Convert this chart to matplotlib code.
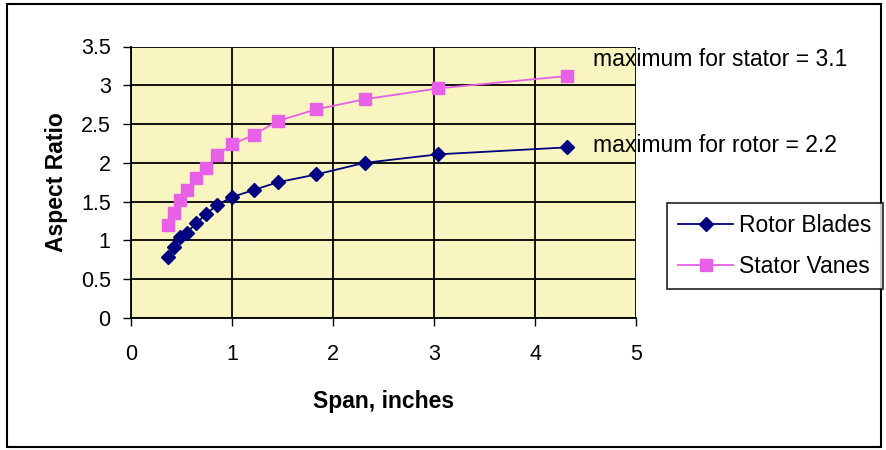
import matplotlib.pyplot as plt
from matplotlib.patches import Rectangle

plt.rcParams['font.family'] = ['Liberation Sans', 'DejaVu Sans']

# data
span = [0.36, 0.42, 0.48, 0.55, 0.64, 0.74, 0.85, 1.00, 1.21, 1.45, 1.83, 2.31, 3.04, 4.32]
rotor = [0.79, 0.91, 1.04, 1.10, 1.22, 1.34, 1.46, 1.56, 1.65, 1.75, 1.85, 2.00, 2.11, 2.20]
stator = [1.20, 1.36, 1.52, 1.65, 1.80, 1.94, 2.10, 2.24, 2.36, 2.54, 2.69, 2.82, 2.96, 3.12]

xticks = [0, 1, 2, 3, 4, 5]
yticks = [0, 0.5, 1, 1.5, 2, 2.5, 3, 3.5]
yticklabels = ['0', '0.5', '1', '1.5', '2', '2.5', '3', '3.5']

W, H = 887, 450
fig = plt.figure(figsize=(W / 100, H / 100), dpi=100)
fig.patch.set_facecolor('white')

# outer chart border
fig.patches.append(Rectangle((7 / W, 1 - 447 / H), 874 / W, 443 / H,
                             transform=fig.transFigure, fill=False,
                             edgecolor='black', linewidth=1.5))

ax = fig.add_axes([131.5 / W, 1 - 318 / H, (636 - 131.5) / W, (318 - 46.5) / H])
ax.set_facecolor('#F9F5C0')

ax.plot(span, rotor, color='#000080', marker='D', markersize=7, linewidth=1.3,
        label='Rotor Blades')
ax.plot(span, stator, color='#E85FE8', marker='s', markersize=8, linewidth=1.3,
        label='Stator Vanes')

ax.set_xlim(0, 5)
ax.set_ylim(0, 3.5)
ax.set_xticks(xticks)
ax.set_yticks(yticks)
ax.set_yticklabels(yticklabels)
ax.grid(True, color='black', linewidth=1.3)
ax.set_axisbelow(True)
ax.tick_params(direction='out', length=6, width=1, labelsize=15.5, colors='black')
ax.tick_params(axis='x', pad=13)
ax.tick_params(axis='y', pad=9)
for s in ['top', 'right']:
    ax.spines[s].set_visible(False)
for s in ['left', 'bottom']:
    ax.spines[s].set_linewidth(1.3)

ax.set_xlabel('Span, inches', fontsize=16.5, fontweight='bold', labelpad=18)
ax.set_ylabel('Aspect Ratio', fontsize=16.5, fontweight='bold', labelpad=9)

fig.text(593 / W, 1 - 60 / H, 'maximum for stator = 3.1', fontsize=16.5, va='center', ha='left')
fig.text(593 / W, 1 - 146 / H, 'maximum for rotor = 2.2', fontsize=16.5, va='center', ha='left')

leg = fig.legend(loc='upper left', bbox_to_anchor=(667 / W, 1 - 203 / H),
                 fontsize=16.5, frameon=True, fancybox=False, edgecolor='black',
                 handlelength=2.4, handletextpad=0.25, borderpad=0.5,
                 labelspacing=0.75, borderaxespad=0)
leg.get_frame().set_linewidth(1.3)

fig.savefig('out.png', dpi=100)
